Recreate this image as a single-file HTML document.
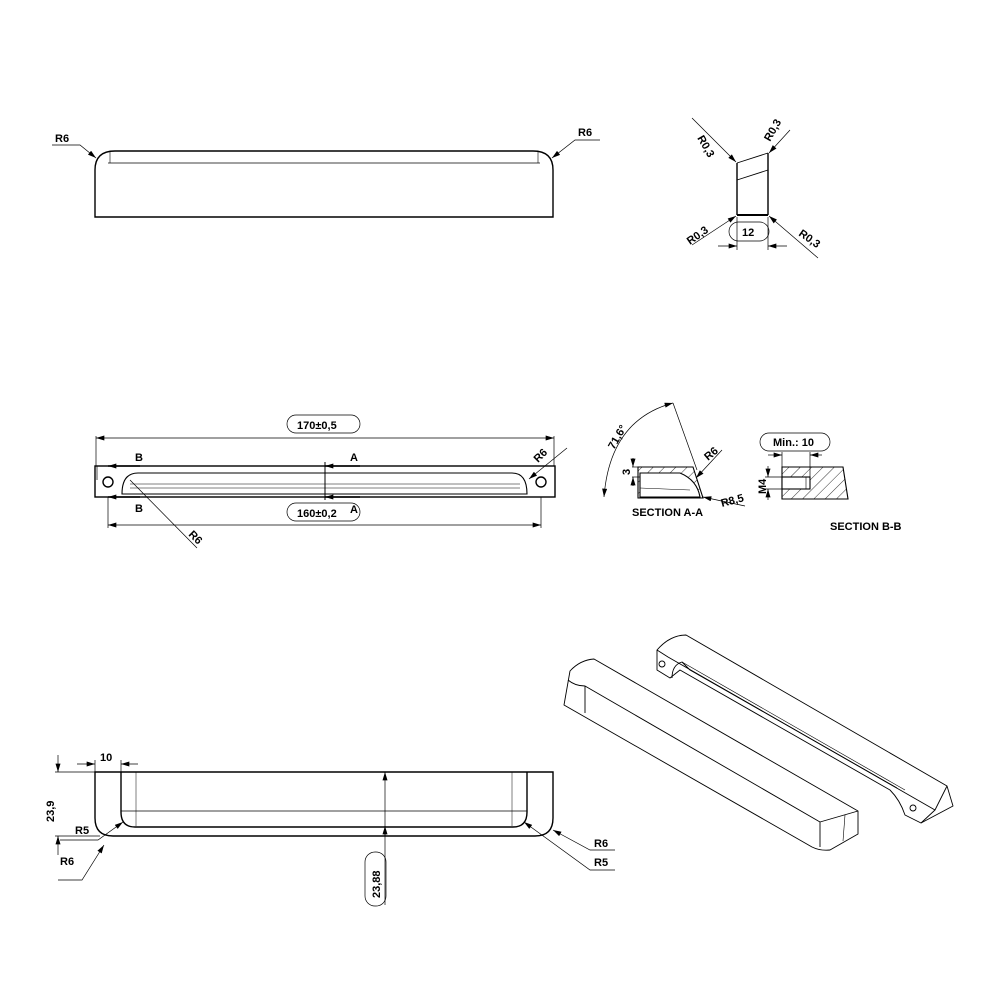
<!DOCTYPE html>
<html><head><style>
body{margin:0;background:#fff}
svg{display:block}
text{font-family:"Liberation Sans",sans-serif;font-weight:bold;font-size:11px;fill:#000}
</style></head><body>
<svg width="1001" height="1001" viewBox="0 0 1001 1001" xmlns="http://www.w3.org/2000/svg">
<defs>
<marker id="a" viewBox="0 0 10 6" refX="10" refY="3" markerWidth="10" markerHeight="5" orient="auto-start-reverse" markerUnits="userSpaceOnUse"><path d="M0,0L10,3L0,6z" fill="#000"/></marker>
<pattern id="h" width="8" height="8" patternUnits="userSpaceOnUse" patternTransform="rotate(45)"><line x1="0" y1="0" x2="0" y2="8" stroke="#000" stroke-width="0.8"/></pattern>
</defs>
<g fill="none" stroke="#000" stroke-width="1.4">
<!-- top view -->
<path d="M95,217 L95,170 Q95,151 115,151 L533,151 Q553,151 553,170 L553,217 Z"/>
<line x1="108" y1="163" x2="540" y2="163" stroke-width="0.8"/>
<line x1="110" y1="151" x2="110" y2="163" stroke-width="0.6"/>
<line x1="538" y1="151" x2="538" y2="163" stroke-width="0.6"/>
</g>
<g stroke="#000" stroke-width="0.7" fill="none">
<polyline points="52,145 80,145 96,158" marker-end="url(#a)"/>
<polyline points="600,140 575,140 552,158" marker-end="url(#a)"/>
</g>
<text x="55" y="142">R6</text><text x="578" y="136">R6</text>

<!-- side profile top-right -->
<g fill="none" stroke="#000" stroke-width="1.4">
<line x1="737" y1="163" x2="737" y2="215"/>
<line x1="768" y1="153" x2="768" y2="215"/>
<line x1="737" y1="163" x2="768" y2="153" stroke-width="0.9"/>
<line x1="737" y1="180" x2="768" y2="170" stroke-width="0.9"/>
<line x1="737" y1="215" x2="768" y2="215" stroke-width="2"/>
</g>
<g stroke="#000" stroke-width="0.7" fill="none">
<line x1="692" y1="118" x2="736" y2="162" marker-end="url(#a)"/>
<line x1="790" y1="130" x2="769" y2="153" marker-end="url(#a)"/>
<line x1="692" y1="245" x2="736" y2="216" marker-end="url(#a)"/>
<line x1="818" y1="258" x2="769" y2="216" marker-end="url(#a)"/>
<line x1="718" y1="246" x2="737" y2="246" marker-end="url(#a)"/>
<line x1="787" y1="246" x2="768" y2="246" marker-end="url(#a)"/>
<line x1="737" y1="217" x2="737" y2="250"/><line x1="768" y1="217" x2="768" y2="250"/>
<rect x="729" y="222" width="40" height="19" rx="9.5"/>
</g>
<text x="742" y="236">12</text>
<text transform="translate(697,138) rotate(60)">R0,3</text>
<text transform="translate(770,142) rotate(-60)">R0,3</text>
<text transform="translate(690,245) rotate(-35)">R0,3</text>
<text transform="translate(798,235) rotate(35)">R0,3</text>

<!-- plan view -->
<g fill="none" stroke="#000" stroke-width="1.4">
<rect x="95" y="466" width="460" height="31"/>
<circle cx="108" cy="482" r="5"/><circle cx="541" cy="482" r="5"/>
<path d="M138,473 L512,473 Q527,473 527,494 L122,494 Q122,473 138,473 Z" stroke-width="1.1"/>
<line x1="130" y1="488" x2="520" y2="488" stroke-width="0.5"/>
<line x1="130" y1="484" x2="520" y2="484" stroke-width="0.5"/>
</g>
<g stroke="#000" stroke-width="0.7" fill="none">
<line x1="325" y1="462" x2="325" y2="500" stroke-width="1"/>
<line x1="96" y1="436" x2="96" y2="466"/><line x1="554" y1="436" x2="554" y2="466"/>
<line x1="96" y1="438" x2="554" y2="438" marker-start="url(#a)" marker-end="url(#a)"/>
<line x1="108" y1="497" x2="108" y2="528"/><line x1="541" y1="497" x2="541" y2="528"/>
<line x1="108" y1="525" x2="541" y2="525" marker-start="url(#a)" marker-end="url(#a)"/>
<rect x="287" y="415" width="73" height="18" rx="9"/>
<rect x="287" y="503" width="73" height="18" rx="9"/>
<line x1="130" y1="480" x2="197" y2="548"/>
<line x1="567" y1="448" x2="529" y2="479" marker-end="url(#a)"/>
<line x1="97" y1="480" x2="97" y2="466"/>
</g>
<g stroke="#000" stroke-width="1.6">
<line x1="140" y1="466" x2="108" y2="466" marker-end="url(#a)"/>
<line x1="140" y1="497" x2="108" y2="497" marker-end="url(#a)"/>
<line x1="360" y1="466" x2="325" y2="466" marker-end="url(#a)"/>
<line x1="360" y1="497" x2="325" y2="497" marker-end="url(#a)"/>
</g>
<text x="297" y="429">170±0,5</text><text x="297" y="517">160±0,2</text>
<text x="135" y="461">B</text><text x="135" y="512">B</text>
<text x="350" y="461">A</text><text x="350" y="513">A</text>
<text transform="translate(188,535) rotate(45)">R6</text>
<text transform="translate(538,463) rotate(-45)">R6</text>

<!-- section A-A -->
<g stroke="#000" stroke-width="1.1">
<path d="M638,467 L693,467 L703,498 L638,498 Z" fill="url(#h)"/>
<path d="M640,473 L680,473 Q697,480 700,497 L640,497 Z" fill="#fff"/>
<line x1="640" y1="488" x2="690" y2="490" stroke-width="0.5"/>
</g>
<g stroke="#000" stroke-width="0.7" fill="none">
<path d="M604,497 Q610,420 673,403" marker-start="url(#a)" marker-end="url(#a)"/>
<line x1="673" y1="403" x2="697" y2="470"/>
<line x1="632" y1="467" x2="640" y2="467"/><line x1="632" y1="477" x2="640" y2="477"/>
<line x1="633" y1="458" x2="633" y2="467" marker-end="url(#a)"/>
<line x1="633" y1="486" x2="633" y2="477" marker-end="url(#a)"/>
<line x1="722" y1="450" x2="696" y2="478" marker-end="url(#a)"/>
<line x1="745" y1="506" x2="703" y2="497" marker-end="url(#a)"/>
</g>
<text transform="translate(614,450) rotate(-60)">71,6°</text>
<text transform="translate(630,475) rotate(-90)">3</text>
<text transform="translate(708,461) rotate(-40)">R6</text>
<text transform="translate(722,507) rotate(-15)">R8,5</text>
<text x="632" y="516">SECTION A-A</text>

<!-- section B-B -->
<g stroke="#000" stroke-width="1.1">
<path d="M782,467 L843,467 L848,499 L782,499 Z" fill="url(#h)"/>
<rect x="782" y="477" width="28" height="12" fill="#fff"/>
<line x1="806" y1="477" x2="806" y2="489" stroke-width="0.6"/>
</g>
<g stroke="#000" stroke-width="0.7" fill="none">
<rect x="760" y="433" width="70" height="18" rx="9"/>
<line x1="782" y1="452" x2="782" y2="467"/><line x1="810" y1="452" x2="810" y2="477"/>
<line x1="768" y1="455" x2="782" y2="455" marker-end="url(#a)"/>
<line x1="822" y1="455" x2="810" y2="455" marker-end="url(#a)"/>
<line x1="765" y1="477" x2="782" y2="477"/><line x1="765" y1="489" x2="782" y2="489"/>
<line x1="768" y1="466" x2="768" y2="477" marker-end="url(#a)"/>
<line x1="768" y1="500" x2="768" y2="489" marker-end="url(#a)"/>
</g>
<text x="773" y="446">Min.: 10</text>
<text transform="translate(766,494) rotate(-90)">M4</text>
<text x="830" y="530">SECTION B-B</text>

<!-- front view -->
<g fill="none" stroke="#000" stroke-width="1.4">
<path d="M95,772 L95,818 Q95,836 113,836 L535,836 Q553,836 553,818 L553,772 Z"/>
<path d="M121,772 L121,812 Q121,827 135,827 L513,827 Q527,827 527,812 L527,772"/>
<line x1="121" y1="811" x2="527" y2="811" stroke-width="0.7"/>
<line x1="136" y1="772" x2="136" y2="826" stroke-width="0.5"/>
<line x1="512" y1="772" x2="512" y2="826" stroke-width="0.5"/>
</g>
<g stroke="#000" stroke-width="0.7" fill="none">
<line x1="95" y1="760" x2="95" y2="772"/><line x1="121" y1="760" x2="121" y2="772"/>
<line x1="77" y1="764" x2="95" y2="764" marker-end="url(#a)"/>
<line x1="138" y1="764" x2="121" y2="764" marker-end="url(#a)"/>
<line x1="55" y1="772" x2="95" y2="772"/><line x1="55" y1="836" x2="100" y2="836"/>
<line x1="58" y1="755" x2="58" y2="772" marker-end="url(#a)"/>
<line x1="58" y1="855" x2="58" y2="836" marker-end="url(#a)"/>
<line x1="385" y1="772" x2="385" y2="905" marker-start="url(#a)"/>
<line x1="385" y1="836" x2="385" y2="826" marker-end="url(#a)"/>
<rect x="365" y="852" width="21" height="54" rx="10"/>
<polyline points="60,840 98,840 123,822" marker-end="url(#a)"/>
<polyline points="58,880 82,880 104,845" marker-end="url(#a)"/>
<polyline points="615,850 590,850 553,830" marker-end="url(#a)"/>
<polyline points="615,870 590,870 524,822" marker-end="url(#a)"/>
</g>
<text x="100" y="761">10</text>
<text transform="translate(54,822) rotate(-90)">23,9</text>
<text transform="translate(380,898) rotate(-90)">23,88</text>
<text x="75" y="834">R5</text><text x="60" y="865">R6</text>
<text x="594" y="847">R6</text><text x="594" y="866">R5</text>

<!-- isometric -->
<g fill="none" stroke="#000" stroke-width="0.9" stroke-linejoin="round">
<path d="M570,671 Q580,660 594,659 L858,811 L858,834 L830,850 Q820,851 812,847 L564,705 L570,671 Z"/>
<path d="M568,680 Q575,686 585,686 L820,822 L858,811"/>
<line x1="585" y1="686" x2="585" y2="713"/>
<line x1="820" y1="822" x2="820" y2="847"/>
<line x1="845" y1="815" x2="843" y2="841" stroke-width="0.6"/>
<path d="M657,650 Q670,635 686,635 L947,786 L953,806 L921,823 L905,815 Q900,800 890,790 L680,670 L670,678 L657,670 Z"/>
<path d="M657,650 L668,657 L935,810 L947,786"/>
<path d="M672,678 Q672,665 682,662 L690,670 L897,788"/>
<line x1="682" y1="662" x2="905" y2="790" stroke-width="0.6"/>
<circle cx="662" cy="664" r="3"/>
<circle cx="913" cy="808" r="3"/>
<line x1="935" y1="810" x2="921" y2="823"/>
</g>
</svg>
</body></html>
